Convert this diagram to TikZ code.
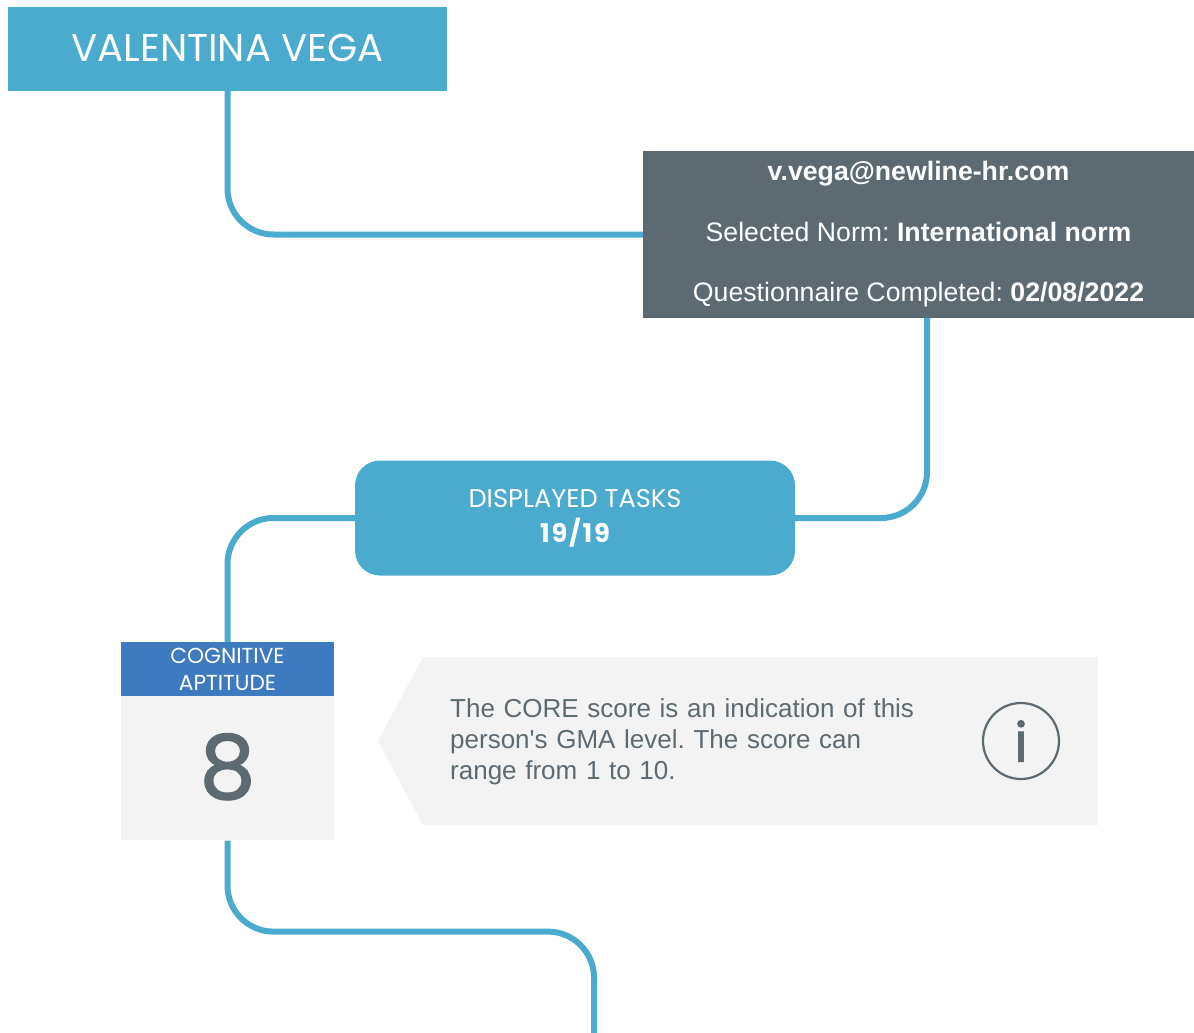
\documentclass[tikz,border=0pt]{standalone}
\usepackage{fontspec}
\setmainfont{Liberation Sans}
\newfontfamily\notefont{Liberation Sans}
\newfontfamily\headfont{Poppins}
\newfontfamily\numfont[FakeBold=1.8]{Poppins}
\newfontfamily\spacedfont[LetterSpace=7]{Poppins}
\usetikzlibrary{positioning}
\definecolor{linkblue}{HTML}{4AABCF}
\definecolor{slate}{HTML}{5D6A71}
\definecolor{headblue}{HTML}{3E7AC0}
\definecolor{panel}{HTML}{F3F3F3}
\tikzset{
    x=1pt,y=-1pt,
    link/.style={draw=linkblue,line width=6pt,rounded corners=46pt},
    namebox/.style={fill=linkblue,text=white,minimum width=439pt,minimum height=84pt,inner sep=0pt,font=\headfont\fontsize{38.7}{44}\selectfont},
    infobox/.style={fill=slate,text=white,minimum width=551pt,minimum height=167pt,inner sep=0pt,align=center,font=\frenchspacing\fontsize{26.7}{60.5}\selectfont},
    taskbox/.style={fill=linkblue,text=white,rounded corners=25pt,minimum width=440pt,minimum height=115pt,inner sep=0pt,align=center,font=\headfont\fontsize{25.7}{35}\selectfont},
    scorehead/.style={fill=headblue,text=white,minimum width=213pt,minimum height=54pt,inner sep=0pt,align=center,font=\headfont\fontsize{21.7}{27}\selectfont},
    scorebody/.style={fill=panel,text=slate,minimum width=213pt,minimum height=144pt,inner sep=0pt,font=\numfont\fontsize{88}{88}\selectfont},
    notetext/.style={text=slate,text width=490pt,inner sep=0pt,align=left,font=\notefont\frenchspacing\fontsize{26}{31}\selectfont},
    infoicon/.style={circle,draw=slate,line width=2.2pt,text=slate,minimum size=76pt,inner sep=0pt,font=\numfont\fontsize{54}{54}\selectfont}
}
\begin{document}
\begin{tikzpicture}
  \useasboundingbox (0,0) rectangle (1194,1033);
  \node[namebox] (name) at (227.5,49) {\raisebox{2pt}{VALENTINA VEGA}};
  \node[infobox] (info) at (918.5,234.5) {\textbf{v.vega@newline-hr.com}\\Selected Norm: \textbf{International norm}\\Questionnaire Completed: \textbf{02/08/2022}};
  \node[taskbox] (tasks) at (575,518) {DISPLAYED TASKS\\{\spacedfont\bfseries 19/19}};
  \node[scorehead] (head) at (227.5,669) {COGNITIVE\\APTITUDE};
  \node[scorebody,below=0pt of head] (score) {\raisebox{5pt}{8}};
  % grey note beside the score
  \fill[panel] (378,741) -- (423,657) -- (1098,657) -- (1098,825) -- (423,825) -- cycle;
  \node[notetext,anchor=west] (note) at (450,742) {The CORE score is an indication of this\\person's GMA level. The score can\\range from 1 to 10.};
  \node[infoicon] (icon) at (1021,741) {i};
  % links
  \coordinate (infoout) at (927,318);
  \coordinate (pageend) at (594,1033);
  \draw[link] (name.south) |- (info.west);
  \draw[link] (infoout) |- (tasks.east);
  \draw[link] (tasks.west) -| (head.north);
  \draw[link] (score.south) -- ++(0,91) -| (pageend);
\end{tikzpicture}
\end{document}
